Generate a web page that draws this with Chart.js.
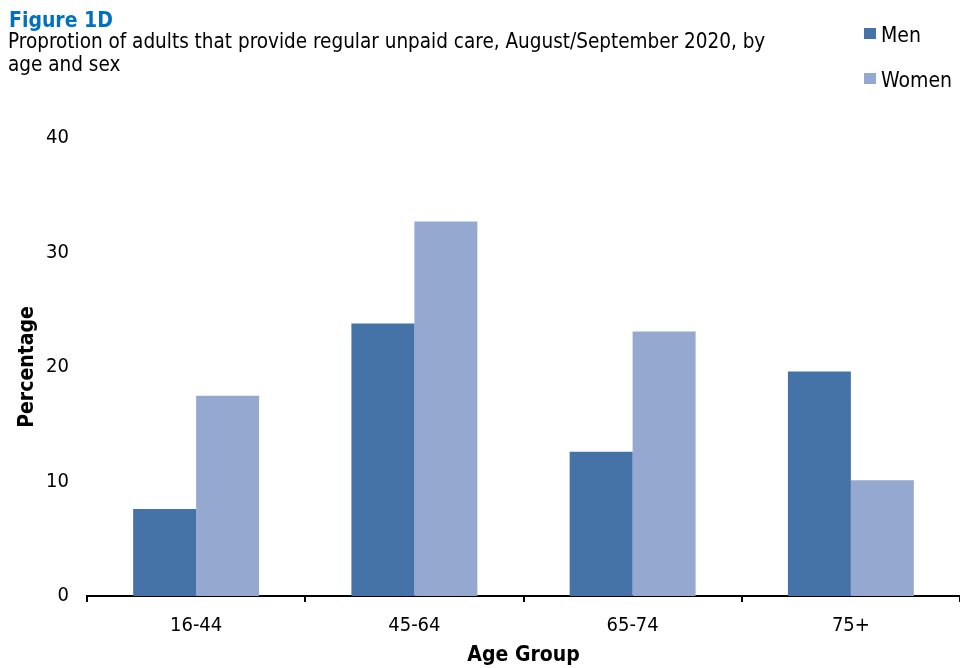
<!DOCTYPE html>
<html>
<head>
<meta charset="utf-8">
<script src="https://cdn.jsdelivr.net/npm/chart.js@4"></script>
<style>
  html, body { margin: 0; padding: 0; background: #fff; }
  body { width: 960px; height: 668px; position: relative; overflow: hidden;
         font-family: "DejaVu Sans Condensed", "DejaVu Sans", sans-serif; }
  #chart { position: absolute; left: 0; top: 0; }
  .fig { position: absolute; left: 9px; top: 8px; font-size: 21px; line-height: 24px; font-weight: bold; color: #0070C0; white-space: nowrap; }
  .sub { position: absolute; left: 8px; top: 30px; font-size: 20.5px; line-height: 23px; color: #000; width: 820px; }
  .legend .item { position: absolute; left: 864px; height: 24px; font-size: 21px; line-height: 24px; color: #000; white-space: nowrap; }
  .legend .sw { position: absolute; left: 0; top: 5px; width: 12px; height: 11px; }
  .legend .lbl { position: absolute; left: 17px; top: 0; }
</style>
</head>
<body>
<canvas id="chart" width="960" height="668"></canvas>
<div class="fig">Figure 1D</div>
<div class="sub">Proprotion of adults that provide regular unpaid care, August/September 2020, by<br>age and sex</div>
<div class="legend">
  <div class="item" style="top:23px"><span class="sw" style="background:#4573A7"></span><span class="lbl">Men</span></div>
  <div class="item" style="top:68px"><span class="sw" style="background:#95A9D0"></span><span class="lbl">Women</span></div>
</div>
<script>
const categories = ['16-44', '45-64', '65-74', '75+'];
const menValues = [7.6, 23.8, 12.6, 19.6];
const womenValues = [17.5, 32.7, 23.1, 10.1];
const seriesNames = ['Men', 'Women'];
const yTickValues = [0, 10, 20, 30, 40];

const FONT = '"DejaVu Sans Condensed", "DejaVu Sans", sans-serif';

new Chart(document.getElementById('chart'), {
  type: 'bar',
  data: {
    labels: categories,
    datasets: [
      { label: seriesNames[0], data: menValues, backgroundColor: '#4573A7', borderWidth: 0,
        categoryPercentage: 0.577, barPercentage: 1.0 },
      { label: seriesNames[1], data: womenValues, backgroundColor: '#95A9D0', borderWidth: 0,
        categoryPercentage: 0.577, barPercentage: 1.0 }
    ]
  },
  options: {
    responsive: false,
    devicePixelRatio: 1,
    animation: false,
    layout: { padding: { top: 138, left: 0, right: 0, bottom: 0 } },
    plugins: {
      legend: { display: false },
      title: { display: false },
      tooltip: { enabled: false }
    },
    scales: {
      x: {
        grid: { display: true, drawOnChartArea: false, drawTicks: true, tickLength: 6,
                color: '#000', lineWidth: 2, offset: true },
        border: { display: true, color: '#000', width: 2 },
        ticks: { color: '#000', font: { family: FONT, size: 20 }, padding: 12 },
        title: { display: true, text: 'Age Group', color: '#000',
                 font: { family: FONT, size: 21, weight: 'bold' }, padding: { top: 0, bottom: 0 } },
        afterFit: s => { s.height = 72; }
      },
      y: {
        min: 0, max: 40,
        afterBuildTicks: s => { s.ticks = yTickValues.map(v => ({ value: v })); },
        grid: { display: false, drawTicks: false },
        border: { display: false },
        ticks: { color: '#000', font: { family: FONT, size: 20 }, padding: 18 },
        title: { display: true, text: 'Percentage', color: '#000',
                 font: { family: FONT, size: 21, weight: 'bold' }, padding: { top: 15, bottom: 0 } },
        afterFit: s => { s.width = 87; }
      }
    }
  }
});
</script>
</body>
</html>
